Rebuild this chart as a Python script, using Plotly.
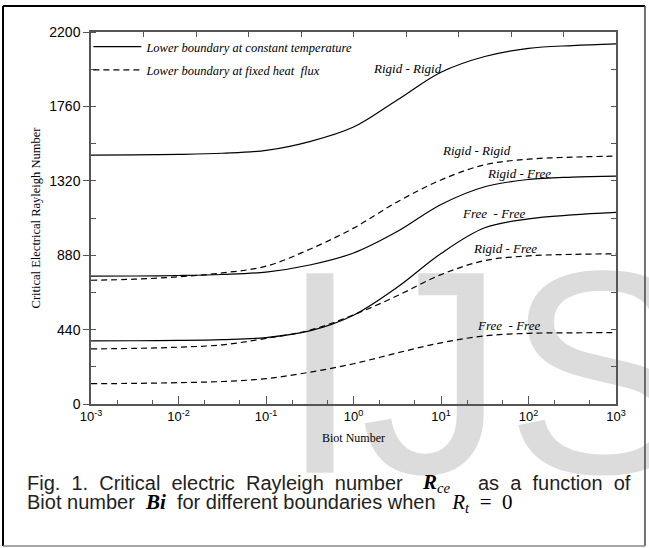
import math
import plotly.graph_objects as go

# ---------------- data ----------------
biot = [0.001, 0.00316, 0.01, 0.0316, 0.1, 0.316, 1, 3.16, 10, 31.6, 100, 316, 1000]

# Lower boundary at constant temperature (solid)
rr_const = [1472, 1473, 1476, 1483, 1500, 1552, 1638, 1798, 1962, 2055, 2103, 2120, 2130]
rf_const = [756, 757, 760, 766, 780, 822, 893, 1020, 1180, 1285, 1328, 1342, 1348]
ff_const = [373, 374, 376, 381, 393, 432, 525, 690, 890, 1042, 1095, 1118, 1133]

# Lower boundary at fixed heat flux (dashed)
rr_flux = [732, 738, 752, 775, 815, 915, 1040, 1195, 1325, 1415, 1448, 1460, 1466]
rf_flux = [326, 329, 336, 350, 388, 436, 527, 640, 765, 848, 876, 885, 888]
ff_flux = [120, 122, 126, 133, 150, 188, 238, 302, 362, 403, 418, 421, 422]

legend_names = ["Lower boundary at constant temperature", "Lower boundary at fixed heat  flux"]

label_text = ["Rigid - Rigid", "Rigid - Rigid", "Rigid - Free", "Free  - Free", "Rigid - Free", "Free  - Free"]
label_bi = [4.12, 25.3, 78.5, 39.6, 54.3, 58.9]
label_val = [1983, 1498, 1362, 1125, 918, 462]

y_ticks = [0, 440, 880, 1320, 1760, 2200]
x_tickvals = [0.001, 0.01, 0.1, 1, 10, 100, 1000]
x_ticktext = ["10<sup>-3</sup>", "10<sup>-2</sup>", "10<sup>-1</sup>", "10<sup>0</sup>",
              "10<sup>1</sup>", "10<sup>2</sup>", "10<sup>3</sup>"]

watermark_text = "IJS"
watermark_bi = [35.5]
watermark_val = [22]

# ---------------- figure ----------------
fig = go.Figure()

# watermark (behind curves)
fig.add_trace(go.Scatter(
    x=watermark_bi, y=watermark_val, mode="text", text=[watermark_text],
    textposition="middle center", cliponaxis=False, hoverinfo="skip", showlegend=False,
    textfont=dict(family="Liberation Sans", size=290, color="#dcdcdc"),
))

solid = dict(color="black", width=1.2, shape="spline", smoothing=1.0)
dashed = dict(color="black", width=1.2, shape="spline", smoothing=1.0, dash="6px,4px")

series = [
    (rr_const, solid, legend_names[0], True, "a"),
    (rf_const, solid, None, False, "a"),
    (ff_const, solid, None, False, "a"),
    (rr_flux, dashed, legend_names[1], True, "b"),
    (rf_flux, dashed, None, False, "b"),
    (ff_flux, dashed, None, False, "b"),
]
for vals, ln, name, show, grp in series:
    fig.add_trace(go.Scatter(x=biot, y=vals, mode="lines", line=ln, name=name,
                             showlegend=show, legendgroup=grp, hoverinfo="skip"))

# helper subplot for mirrored top/right ticks
fig.add_trace(go.Scatter(x=[], y=[], xaxis="x2", yaxis="y2", showlegend=False))

for t, b, v in zip(label_text, label_bi, label_val):
    fig.add_annotation(x=math.log10(b), y=v, text=t.replace("  ", "\u00a0\u00a0"),
                       showarrow=False, xref="x", yref="y",
                       font=dict(family="Liberation Serif", size=13, color="black", style="italic"))

spine = "#555555"
fig.update_layout(
    width=649, height=548,
    margin=dict(l=91, r=33, t=32, b=144),
    paper_bgcolor="white", plot_bgcolor="rgba(0,0,0,0)",
    showlegend=True, hovermode=False,
    legend=dict(x=-0.005, y=1.0, xanchor="left", yanchor="top", bgcolor="rgba(0,0,0,0)",
                font=dict(family="Liberation Serif", size=12.5, color="black", style="italic"),
                itemwidth=48, tracegroupgap=4),
    xaxis=dict(type="log", range=[-3, 3], tickvals=x_tickvals, ticktext=x_ticktext,
               ticks="inside", ticklen=8, tickcolor=spine, tickwidth=1.2,
               minor=dict(ticks="inside", ticklen=4, tickcolor=spine, tickwidth=1, showgrid=False),
               showgrid=False, zeroline=False, showline=True, linecolor=spine, linewidth=1.5,
               mirror=True,
               tickfont=dict(family="Liberation Sans", size=13, color="black"),
               title=dict(text="Biot Number", standoff=10,
                          font=dict(family="Liberation Serif", size=12, color="black"))),
    yaxis=dict(range=[0, 2200], tickvals=y_ticks, ticks="outside", ticklen=6,
               tickcolor=spine, tickwidth=1.2,
               minor=dict(ticks="inside", ticklen=5, dtick=220, tick0=0, tickcolor=spine,
                          tickwidth=1, showgrid=False),
               showgrid=False, zeroline=False, showline=True, linecolor=spine, linewidth=1.5,
               mirror=True,
               tickfont=dict(family="Liberation Sans", size=14, color="black"),
               title=dict(text="Critical Electrical Rayleigh Number", standoff=6,
                          font=dict(family="Liberation Serif", size=12.5, color="black"))),
    xaxis2=dict(overlaying="x", anchor="y2", side="top", range=[0, 10], dtick=1, tick0=0,
                ticks="inside", ticklen=5, tickcolor=spine, showticklabels=False,
                showgrid=False, zeroline=False, showline=False),
    yaxis2=dict(overlaying="y", anchor="x2", side="right", range=[0, 2200], dtick=220, tick0=0,
                ticks="inside", ticklen=5, tickcolor=spine, showticklabels=False,
                showgrid=False, zeroline=False, showline=False),
)

# caption
cap_font = dict(family="Liberation Sans", size=20, color="#222222")
nb = "\u00a0\u00a0"
fig.add_annotation(xref="paper", yref="paper", x=-0.1257, y=-0.2116, xanchor="left", yanchor="middle",
                   showarrow=False, font=cap_font,
                   text=nb.join(["Fig.", "1.", "Critical", "electric", "Rayleigh", "number"]))
fig.add_annotation(xref="paper", yref="paper", x=0.6267, y=-0.2116, xanchor="left", yanchor="middle",
                   showarrow=False, font=dict(family="Liberation Serif", size=21, color="black"),
                   text="<b><i>R</i></b><i><sub>ce</sub></i>")
fig.add_annotation(xref="paper", yref="paper", x=1.0324, y=-0.2116, xanchor="right", yanchor="middle",
                   showarrow=False, font=cap_font,
                   text=nb.join(["as", "a", "function", "of"]))
serif_span = '<span style="font-family:Liberation Serif;font-size:21px;color:black">'
fig.add_annotation(xref="paper", yref="paper", x=-0.1257, y=-0.266, xanchor="left", yanchor="middle",
                   showarrow=False, font=cap_font,
                   text="Biot number\u00a0\u00a0" + serif_span + "<b><i>Bi</i></b></span>"
                        "\u00a0\u00a0for different boundaries when\u00a0\u00a0\u00a0" + serif_span +
                        "<i>R<sub>t</sub></i>\u00a0\u00a0=\u00a0\u00a00</span>")

# outer frame
fig.add_shape(type="line", xref="paper", yref="paper", x0=-0.1676, x1=-0.1676, y0=-0.3817, y1=1.0699,
              line=dict(color="black", width=2))
fig.add_shape(type="line", xref="paper", yref="paper", x0=-0.1676, x1=1.0552, y0=1.0699, y1=1.0699,
              line=dict(color="black", width=2))
fig.add_shape(type="line", xref="paper", yref="paper", x0=1.0552, x1=1.0552, y0=-0.3817, y1=1.0699,
              line=dict(color="#444444", width=1.5))
fig.add_shape(type="line", xref="paper", yref="paper", x0=-0.1676, x1=1.0552, y0=-0.3817, y1=-0.3817,
              line=dict(color="#888888", width=1.5))

fig.write_html("out.html", config={"displayModeBar": False},
               post_script="document.body.style.margin='0px';")
